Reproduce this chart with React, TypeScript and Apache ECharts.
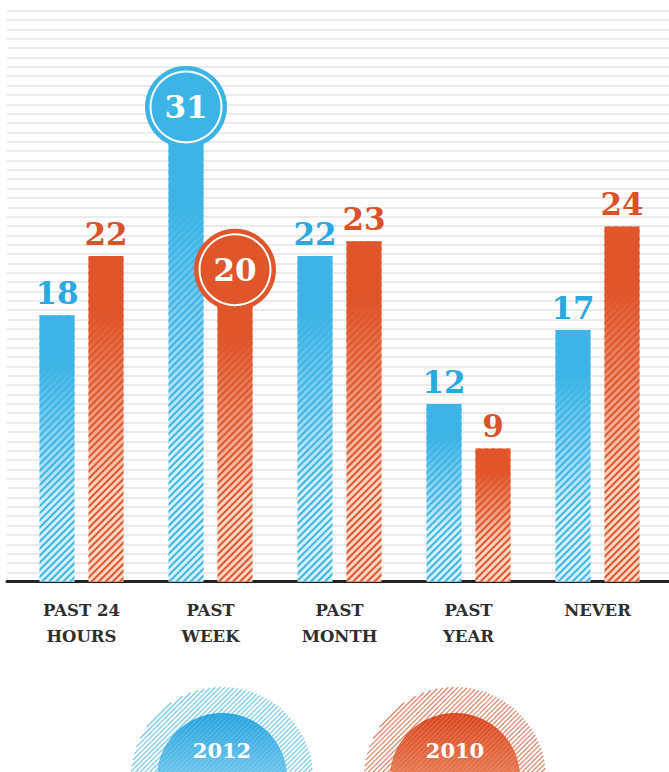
import React, { useEffect, useRef } from "react";
import * as echarts from "echarts";

const categories = ["PAST 24\nHOURS", "PAST\nWEEK", "PAST\nMONTH", "PAST\nYEAR", "NEVER"];
const values2012 = [18, 31, 22, 12, 17];
const values2010 = [22, 20, 23, 9, 24];
const circled2012 = ["PAST\nWEEK"];
const circled2010 = ["PAST\nWEEK"];
const legendLabels = ["2012", "2010"];

const BLUE = "#3cb4e6";
const BLUE_TEXT = "#2aa8e0";
const ORANGE = "#e0552a";
const ORANGE_TEXT = "#d9522a";
const NUM_FONT = "DejaVu Serif";

function hatch(cx: number, cy: number, r: number, step: number, stroke: string, lw: number) {
  const out: any[] = [];
  const s = Math.SQRT1_2;
  for (let d = -r + step / 2; d < r; d += step) {
    const h = Math.sqrt(r * r - d * d);
    const mx = cx + d * s;
    const my = cy + d * s;
    out.push({
      type: "line",
      silent: true,
      shape: { x1: mx - h * s, y1: my + h * s, x2: mx + h * s, y2: my - h * s },
      style: { stroke, lineWidth: lw },
    });
  }
  return out;
}

function legendBadge(cx: number, cy: number, label: string, main: string, light: string, stripe: string) {
  return [
    ...hatch(cx, cy, 91, 3.4, stripe, 1.2),
    {
      type: "circle",
      silent: true,
      shape: { cx, cy, r: 65 },
      style: {
        fill: {
          type: "linear", x: 0, y: 0, x2: 0, y2: 1,
          colorStops: [
            { offset: 0, color: main },
            { offset: 0.5, color: light },
            { offset: 1, color: light },
          ],
        },
      },
    },
    ...hatch(cx, cy, 64, 3.4, "rgba(255,255,255,0.18)", 1.1),
    {
      type: "text",
      silent: true,
      x: cx,
      y: cy - 28,
      style: {
        text: label,
        fill: "#ffffff",
        fontFamily: NUM_FONT,
        fontWeight: "bold",
        fontSize: 21,
        align: "center",
        verticalAlign: "middle",
      },
    },
  ];
}

function barFill(main: string, light: string) {
  return {
    type: "linear", x: 0, y: 0, x2: 0, y2: 1,
    colorStops: [
      { offset: 0, color: main },
      { offset: 0.18, color: main },
      { offset: 0.72, color: light },
      { offset: 1, color: light },
    ],
  };
}

function makeSeries(name: string, values: number[], circled: string[], color: string, light: string, textColor: string) {
  const mp: any[] = [];
  values.forEach((v, i) => {
    if (circled.includes(categories[i])) {
      mp.push({
        coord: [i, v],
        symbol: "circle",
        symbolSize: 82,
        symbolOffset: [0, -16],
        itemStyle: { color },
        label: { show: false },
      });
      mp.push({
        coord: [i, v],
        symbol: "circle",
        symbolSize: 71,
        symbolOffset: [0, -16],
        itemStyle: { color: "rgba(0,0,0,0)", borderColor: "#ffffff", borderWidth: 2 },
        label: {
          show: true,
          formatter: String(v),
          color: "#ffffff",
          fontFamily: NUM_FONT,
          fontWeight: "bold",
          fontSize: 31,
        },
      });
    }
  });
  return {
    name,
    type: "bar",
    xAxisIndex: 1,
    yAxisIndex: 1,
    barWidth: 35,
    barGap: "40%",
    silent: true,
    data: values.map((v, i) => (circled.includes(categories[i]) ? { value: v, label: { show: false } } : v)),
    itemStyle: {
      color: barFill(color, light),
      decal: {
        symbol: "rect",
        symbolSize: 1,
        dashArrayX: [1, 0],
        dashArrayY: [1.8, 3],
        rotation: -Math.PI / 4,
        color,
      },
    },
    label: {
      show: true,
      position: "top",
      distance: 7,
      color: textColor,
      fontFamily: NUM_FONT,
      fontWeight: "bold",
      fontSize: 31,
    },
    markPoint: { silent: true, data: mp },
  };
}

export default function App() {
  const ref = useRef<HTMLDivElement>(null);
  useEffect(() => {
    if (!ref.current) return;
    const chart = echarts.init(ref.current, undefined, { renderer: "svg" });
    chart.setOption({
      animation: false,
      backgroundColor: "#ffffff",
      grid: [
        { left: 7, top: 10.7, width: 662, height: 571 },
        { left: 17, top: 581.7 - 38 * 14.8, width: 645, height: 38 * 14.8 },
      ],
      xAxis: [
        {
          gridIndex: 0, type: "value", min: 0, max: 1,
          axisLine: { show: true, lineStyle: { color: "#222222", width: 3 } },
          axisTick: { show: false }, axisLabel: { show: false }, splitLine: { show: false },
        },
        {
          gridIndex: 1, type: "category", data: categories,
          axisLine: { show: false }, axisTick: { show: false },
          axisLabel: {
            margin: 16,
            color: "#2e2e2e",
            fontFamily: NUM_FONT,
            fontWeight: "bold",
            fontSize: 16.5,
            lineHeight: 26,
            interval: 0,
          },
        },
      ],
      yAxis: [
        {
          gridIndex: 0, type: "value", min: 0, max: 61, interval: 1,
          axisLine: { show: false }, axisTick: { show: false }, axisLabel: { show: false },
          splitLine: { show: true, lineStyle: { color: "#e4e4e4", width: 1.5 } },
        },
        {
          gridIndex: 1, type: "value", min: 0, max: 38,
          show: false, splitLine: { show: false },
        },
      ],
      series: [
        makeSeries("2012", values2012, circled2012, BLUE, "#d6f0fb", BLUE_TEXT),
        makeSeries("2010", values2010, circled2010, ORANGE, "#f9d6c6", ORANGE_TEXT),
      ],
      graphic: [
        ...legendBadge(222, 778, legendLabels[0], "#22a2de", "#6ec6ec", "#78c9ee"),
        ...legendBadge(455, 778, legendLabels[1], "#d8441b", "#e87a52", "#e08466"),
      ],
    });
    return () => chart.dispose();
  }, []);
  return (
    <div
      ref={ref}
      style={{ position: "fixed", left: 0, top: 0, width: 669, height: 772 }}
    />
  );
}
